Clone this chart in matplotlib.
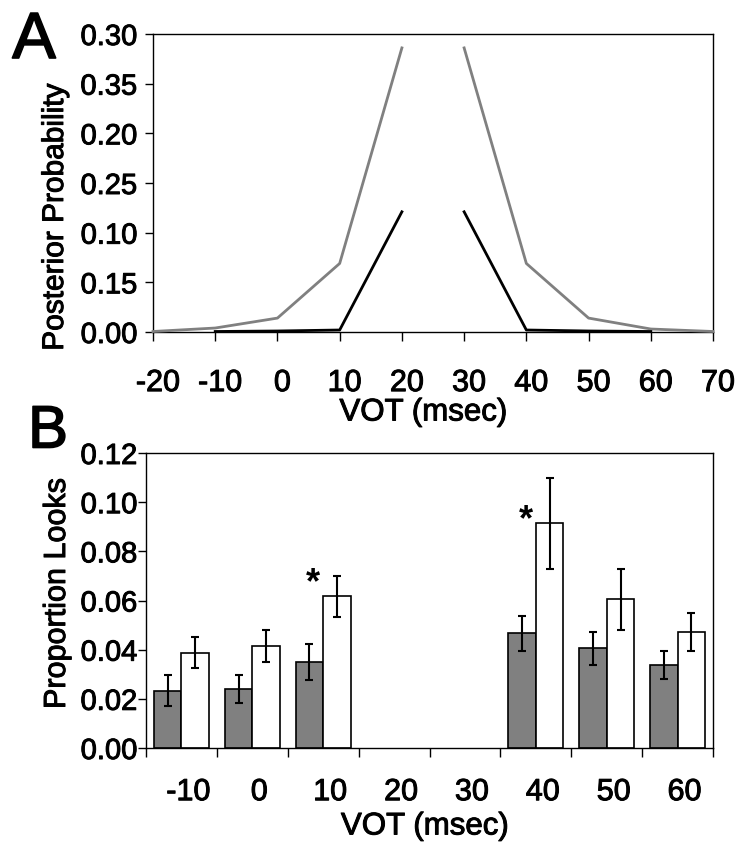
import numpy as np
import matplotlib
matplotlib.use("Agg")
import matplotlib.pyplot as plt
import matplotlib.patheffects as pe
from matplotlib.transforms import ScaledTranslation

plt.rcParams['font.family'] = ['Liberation Sans', 'DejaVu Sans']
plt.rcParams['axes.unicode_minus'] = False

# ---- Panel A data ----
vot_a = [-20, -10, 0, 10, 20, 25, 30, 40, 50, 60, 70]
gray_a = [0.0005, 0.004, 0.014, 0.069, 0.286, np.nan, 0.286, 0.069, 0.014, 0.003, 0.0005]
black_a = [np.nan, 0.0005, 0.001, 0.002, 0.121, np.nan, 0.121, 0.002, 0.001, 0.0005, np.nan]
a_xticks = [-20, -10, 0, 10, 20, 30, 40, 50, 60, 70]
a_xticklabels = ['-20', '-10', '0', '10', '20', '30', '40', '50', '60', '70']
a_yticks = [0.00, 0.05, 0.10, 0.15, 0.20, 0.25, 0.30]
a_yticklabels = ['0.00', '0.15', '0.10', '0.25', '0.20', '0.35', '0.30']

# ---- Panel B data ----
vot_b = ['-10', '0', '10', '20', '30', '40', '50', '60']
gray_b = [0.0232, 0.0239, 0.0350, np.nan, np.nan, 0.0466, 0.0405, 0.0337]
gray_err = [0.0063, 0.0056, 0.0073, np.nan, np.nan, 0.0073, 0.0068, 0.0057]
white_b = [0.0388, 0.0414, 0.0617, np.nan, np.nan, 0.0915, 0.0605, 0.0473]
white_err = [0.0063, 0.0065, 0.0084, np.nan, np.nan, 0.0185, 0.0124, 0.0077]
star_cats = ['10', '40']
star_y = [0.063, 0.0887]
b_yticks = [0.00, 0.02, 0.04, 0.06, 0.08, 0.10, 0.12]

fig = plt.figure(figsize=(7.5, 8.48), dpi=100)
heavy = [pe.withStroke(linewidth=0.7, foreground='black')]

# ---------------- Panel A ----------------
axA = fig.add_axes([0.204, 0.6085, 0.7467, 0.3514])
axA.plot(vot_a, gray_a, color='#808080', lw=2.0, clip_on=False, zorder=3)
axA.plot(vot_a, black_a, color='black', lw=2.0, clip_on=False, zorder=4)
axA.set_xlim(-20, 70)
axA.set_ylim(0, 0.30)
axA.set_xticks(a_xticks)
axA.set_xticklabels(a_xticklabels)
axA.set_yticks(a_yticks)
axA.set_yticklabels(a_yticklabels)
axA.tick_params(axis='x', length=6.5, width=1, pad=19.5, labelsize=22)
axA.tick_params(axis='y', length=6, width=1, pad=5.5, labelsize=21)
off = ScaledTranslation(5 / 100, 0, fig.dpi_scale_trans)
for lab in axA.get_xticklabels():
    lab.set_transform(lab.get_transform() + off)
for sp in axA.spines.values():
    sp.set_linewidth(1.0)
axA.set_xlabel('VOT (msec)', fontsize=22.5)
axA.xaxis.set_label_coords(0.483, -0.2198)
axA.set_ylabel('Posterior Probability', fontsize=21.5, va='center', ha='center')
axA.yaxis.set_label_coords(-0.175, 0.386)
tA = fig.text(34 / 750, 1 - 41 / 848, 'A', fontsize=47, ha='center', va='center')
tA.set_path_effects([pe.withStroke(linewidth=1.2, foreground='black')])

# ---------------- Panel B ----------------
axB = fig.add_axes([0.1947, 0.1179, 0.756, 0.3479])
pos = np.arange(len(vot_b))
w = 0.39
axB.bar(pos - w / 2, gray_b, width=w, color='#808080', edgecolor='black', lw=1.2, zorder=2)
axB.bar(pos + w / 2, white_b, width=w, color='white', edgecolor='black', lw=1.2, zorder=2)
axB.errorbar(pos - w / 2, gray_b, yerr=gray_err, fmt='none', ecolor='black',
             elinewidth=1.5, capsize=3, capthick=1.5, zorder=3)
axB.errorbar(pos + w / 2, white_b, yerr=white_err, fmt='none', ecolor='black',
             elinewidth=1.5, capsize=3, capthick=1.5, zorder=3)
for c, sy in zip(star_cats, star_y):
    i = vot_b.index(c)
    axB.text(pos[i] - w / 2 + 0.05, sy, '*', fontsize=26, fontweight='bold',
             ha='center', va='baseline')
axB.set_xlim(-0.5, len(vot_b) - 0.5)
axB.set_ylim(0, 0.12)
axB.set_yticks(b_yticks)
axB.set_yticklabels(['%.2f' % v for v in b_yticks])
axB.set_xticks(pos)
axB.set_xticklabels(vot_b)
axB.set_xticks(np.arange(len(vot_b) + 1) - 0.5, minor=True)
axB.tick_params(axis='x', which='major', length=0, pad=21, labelsize=22)
axB.tick_params(axis='x', which='minor', length=6.5, width=1)
axB.tick_params(axis='y', length=6, width=1, pad=0.5, labelsize=21)
offb = ScaledTranslation(7 / 100, 0, fig.dpi_scale_trans)
for lab in axB.get_xticklabels():
    lab.set_transform(lab.get_transform() + offb)
for sp in axB.spines.values():
    sp.set_linewidth(1.0)
axB.set_xlabel('VOT (msec)', fontsize=22.5)
axB.xaxis.set_label_coords(0.492, -0.215)
axB.set_ylabel('Proportion Looks', fontsize=22, va='center', ha='center')
axB.yaxis.set_label_coords(-0.157, 0.522)
tB = fig.text(48 / 750, 1 - 432 / 848, 'B', fontsize=43, ha='center', va='center')
tB.set_path_effects([pe.withStroke(linewidth=1.2, foreground='black')])

for ax in (axA, axB):
    for t in ax.get_xticklabels() + ax.get_yticklabels() + [ax.xaxis.label, ax.yaxis.label]:
        t.set_path_effects(heavy)

fig.savefig('out.png', dpi=100)
